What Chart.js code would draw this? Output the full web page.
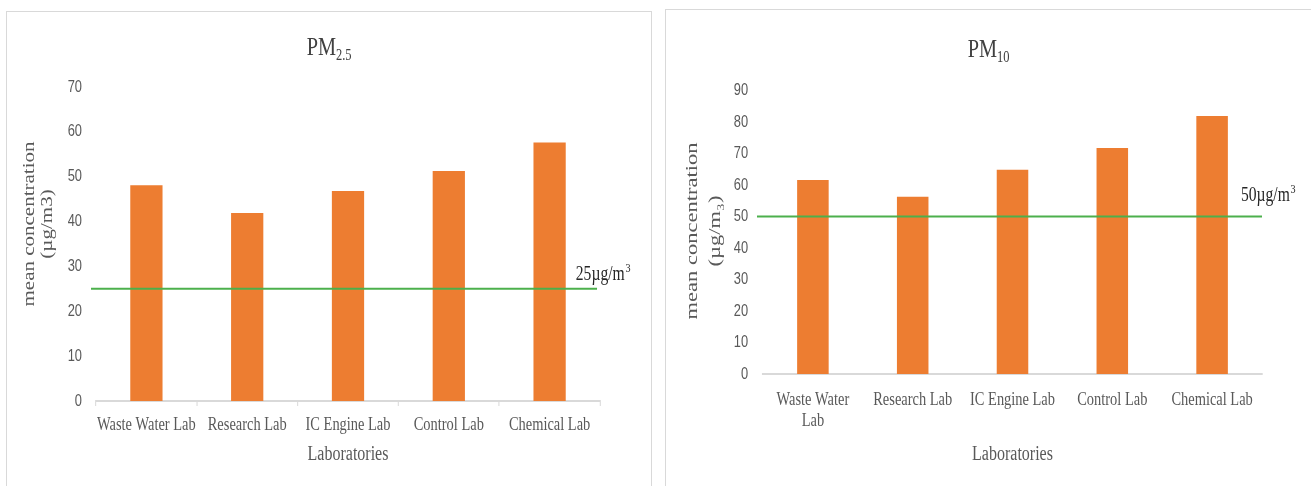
<!DOCTYPE html>
<html>
<head>
<meta charset="utf-8">
<script src="https://cdn.jsdelivr.net/npm/chart.js@4.4.1/dist/chart.umd.min.js"></script>
<style>
  html, body { margin: 0; padding: 0; background: #fff; width: 1311px; height: 486px; overflow: hidden; }
  .panel { position: absolute; border: 1px solid #d9d9d9; overflow: hidden; background: #fff; }
  .panel canvas { display: block; }
</style>
</head>
<body>
<div class="panel" style="left:6px; top:11px; width:644px; height:480px;"><canvas id="pm25Chart"></canvas></div>
<div class="panel" style="left:665px; top:9px; width:645px; height:480px;"><canvas id="pm10Chart"></canvas></div>

<script>
// Laboratories sampled
const labs = ['Waste Water Lab', 'Research Lab', 'IC Engine Lab', 'Control Lab', 'Chemical Lab'];
const labsWrapped = [['Waste Water', 'Lab'], 'Research Lab', 'IC Engine Lab', 'Control Lab', 'Chemical Lab'];

// Mean concentrations (µg/m3)
const pm25Values = [48.1, 41.9, 46.8, 51.3, 57.6];
const pm10Values = [61.6, 56.3, 64.9, 71.8, 82.0];

// Guideline limits (µg/m3)
const pm25Limit = 25;
const pm10Limit = 50;

// Value axis ranges
const pm25AxisMax = 70;
const pm10AxisMax = 90;
const axisStep = 10;

// Horizontal condensing of the drawing (narrow typesetting)
const K = 0.78;
const SERIF = '"Liberation Serif", "Times New Roman", serif';
const SANS = '"Liberation Sans", Arial, sans-serif';
const GREY = '#595959';

// Draws titles, rotated value-axis caption and the guideline with its label,
// all inside the condensed coordinate system.
function makeDecor(cfg) {
  return {
    id: 'decor',
    beforeDraw(chart) {
      const c = chart.ctx;
      c.save();
      c.scale(K, 1);
    },
    afterDraw(chart) {
      const c = chart.ctx;
      const a = chart.chartArea;

      // chart title with subscript
      c.save();
      c.fillStyle = '#404040';
      c.textBaseline = 'alphabetic';
      c.textAlign = 'left';
      c.font = cfg.titleSize + 'px ' + SERIF;
      const w1 = c.measureText(cfg.title[0]).width;
      c.font = cfg.subSize + 'px ' + SERIF;
      const w2 = c.measureText(cfg.title[1]).width;
      const x0 = chart.width / 2 - (w1 + w2) / 2;
      c.font = cfg.titleSize + 'px ' + SERIF;
      c.fillText(cfg.title[0], x0, cfg.titleY);
      c.font = cfg.subSize + 'px ' + SERIF;
      c.fillText(cfg.title[1], x0 + w1, cfg.titleY + cfg.subDrop);
      c.restore();

      // rotated value-axis caption (two lines)
      c.save();
      c.fillStyle = GREY;
      c.font = cfg.yTitleSize + 'px ' + SERIF;
      c.textAlign = 'center';
      c.textBaseline = 'middle';
      cfg.yTitle.forEach((line, i) => {
        c.save();
        c.translate(cfg.yTitleX[i], cfg.yTitleY);
        c.rotate(-Math.PI / 2);
        c.fillText(line, 0, 0);
        c.restore();
      });
      c.restore();

      // guideline
      const yl = chart.scales.y.getPixelForValue(cfg.limit);
      c.save();
      c.strokeStyle = '#4cb04c';
      c.lineWidth = 2;
      c.beginPath();
      c.moveTo(a.left - cfg.lineExt[0], yl);
      c.lineTo(a.right + cfg.lineExt[1], yl);
      c.stroke();

      // guideline label: value + µg/m + superscript 3
      c.fillStyle = '#262626';
      c.textAlign = 'left';
      c.textBaseline = 'alphabetic';
      c.font = cfg.labelSize + 'px ' + SERIF;
      const txt = cfg.limit + 'µg/m';
      const lx = a.right + cfg.labelDx;
      const ly = yl + cfg.labelDy;
      c.fillText(txt, lx, ly);
      const tw = c.measureText(txt).width;
      c.font = Math.round(cfg.labelSize * 0.65) + 'px ' + SERIF;
      c.fillText('3', lx + tw + 1, ly - cfg.labelSize * 0.38);
      c.restore();

      c.restore(); // undo condensing
    }
  };
}

function buildChart(id, opt) {
  const canvas = document.getElementById(id);
  const vw = Math.round(opt.visibleWidth / K);
  canvas.width = vw;
  canvas.height = opt.height;

  const leftV = opt.areaLeft / K;
  const rightV = opt.areaRight / K;

  return new Chart(canvas, {
    type: 'bar',
    data: {
      labels: opt.labels,
      datasets: [{
        data: opt.values,
        backgroundColor: '#ed7d31',
        borderWidth: 0,
        categoryPercentage: 0.8,
        barPercentage: opt.barPct
      }]
    },
    options: {
      responsive: false,
      devicePixelRatio: 1,
      animation: false,
      events: [],
      layout: { padding: { left: 0, right: vw - rightV, top: opt.areaTop, bottom: 0 } },
      plugins: { legend: { display: false }, title: { display: false }, tooltip: { enabled: false } },
      scales: {
        x: {
          grid: opt.xTicksMarks
            ? { display: true, drawOnChartArea: false, drawTicks: true, tickLength: 5, color: '#d9d9d9', lineWidth: 1.3 }
            : { display: false, drawTicks: false },
          border: { display: true, color: '#d9d9d9', width: 2 },
          ticks: {
            font: { family: SERIF, size: 18.5, lineHeight: 1.15 },
            color: GREY,
            padding: opt.xTickPad,
            maxRotation: 0,
            minRotation: 0,
            autoSkip: false
          },
          title: {
            display: true,
            text: 'Laboratories',
            font: { family: SERIF, size: 20.5, lineHeight: 1.2 },
            color: GREY,
            padding: { top: 0, bottom: opt.xTitlePadBottom }
          },
          afterFit(s) { s.height = opt.height - opt.areaBottom; }
        },
        y: {
          min: 0,
          max: opt.axisMax,
          ticks: {
            stepSize: axisStep,
            font: { family: SANS, size: 16.5 },
            color: GREY,
            padding: opt.yTickPad
          },
          grid: { display: false, drawTicks: false },
          border: { display: false },
          afterFit(s) { s.width = leftV; }
        }
      }
    },
    plugins: [makeDecor(opt.decor)]
  });
}

buildChart('pm25Chart', {
  labels: labs,
  values: pm25Values,
  axisMax: pm25AxisMax,
  visibleWidth: 644,
  height: 470,
  areaLeft: 89, areaRight: 593, areaTop: 75, areaBottom: 389,
  barPct: 0.4,
  xTicksMarks: true,
  xTickPad: 9,
  xTitlePadBottom: 14.7,
  yTickPad: 18,
  decor: {
    title: ['PM', '2.5'], titleSize: 26, subSize: 16, titleY: 43, subDrop: 5,
    yTitle: ['mean concentration', '(µg/m3)'], yTitleX: [28.5, 52], yTitleY: 212, yTitleSize: 21,
    limit: pm25Limit, lineExt: [6.4, -3.8], labelDx: -31, labelDy: -9, labelSize: 20
  }
});

buildChart('pm10Chart', {
  labels: labsWrapped,
  values: pm10Values,
  axisMax: pm10AxisMax,
  visibleWidth: 645,
  height: 470,
  areaLeft: 97, areaRight: 596, areaTop: 80.7, areaBottom: 364,
  barPct: 0.395,
  xTicksMarks: false,
  xTickPad: 15.4,
  xTitlePadBottom: 12.7,
  yTickPad: 19,
  decor: {
    title: ['PM', '10'], titleSize: 26, subSize: 16, titleY: 47, subDrop: 5,
    yTitle: ['mean concentration', '(µg/m₃)'], yTitleX: [33.3, 62.8], yTitleY: 221, yTitleSize: 22.5,
    limit: pm10Limit, lineExt: [7.7, 0], labelDx: -27, labelDy: -16, labelSize: 20
  }
});
</script>
</body>
</html>
